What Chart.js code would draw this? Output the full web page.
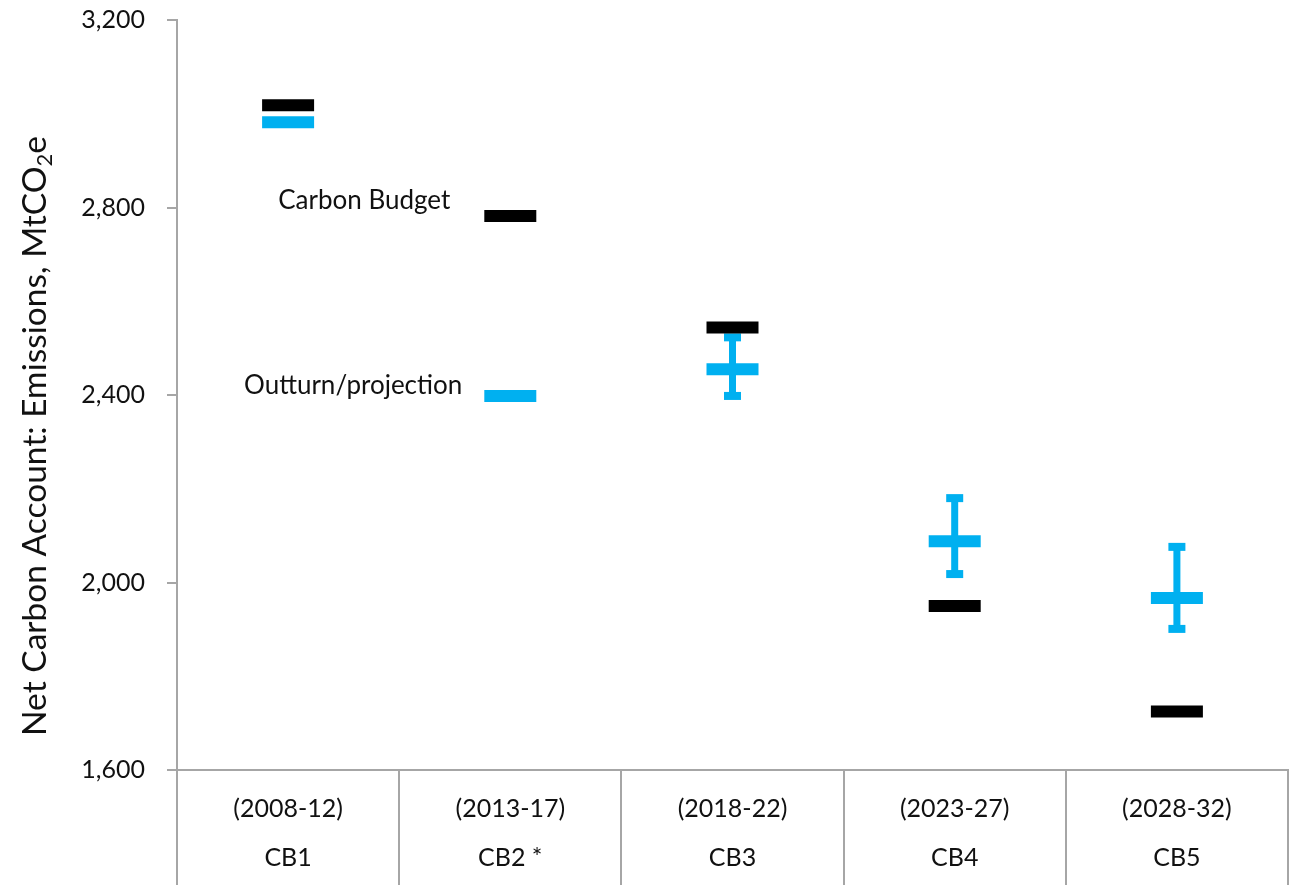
<!DOCTYPE html>
<html>
<head>
<meta charset="utf-8">
<script src="https://cdn.jsdelivr.net/npm/chart.js@4.4.1/dist/chart.umd.min.js"></script>
<style>
    body { margin: 0; background: #ffffff; }
    #wrap { width: 1291px; height: 885px; }
</style>
</head>
<body>
<div id="wrap"><canvas id="myChart" width="1291" height="885"></canvas></div>
<script>
//------------Data-----------------
const periods = ['(2008-12)', '(2013-17)', '(2018-22)', '(2023-27)', '(2028-32)'];
const budgetNames = ['CB1', 'CB2 *', 'CB3', 'CB4', 'CB5'];

const carbonBudget = [3018, 2782, 2544, 1950, 1725];
const outturn = [2982, 2398, 2455, 2088, 1967];
const outturnLow = [null, null, 2398, 2018, 1901];
const outturnHigh = [null, null, 2523, 2180, 2076];

const yTicks = [1600, 2000, 2400, 2800, 3200];

const blue = '#00b0f0';
const axisGrey = '#a6a6a6';
const textColor = '#111111';
const fontFamily = 'Lato, "Open Sans", sans-serif';

// Error bars for the projection series
const errorBars = {
    id: 'errorBars',
    beforeDatasetsDraw(chart) {
        const ctx = chart.ctx;
        const x = chart.scales.x;
        const y = chart.scales.y;
        ctx.save();
        ctx.fillStyle = blue;
        outturnLow.forEach((low, i) => {
            const high = outturnHigh[i];
            if (low == null || high == null) return;
            const px = x.getPixelForValue(i);
            const top = y.getPixelForValue(high);
            const bottom = y.getPixelForValue(low);
            ctx.fillRect(px - 3.5, top, 7, bottom - top);       // stem
            ctx.fillRect(px - 8.5, top - 4, 17, 8);              // top cap
            ctx.fillRect(px - 8.5, bottom - 4, 17, 8);           // bottom cap
        });
        ctx.restore();
    }
};

// Series labels + axis title with subscript
const textBits = {
    id: 'textBits',
    afterDraw(chart) {
        const ctx = chart.ctx;
        const x = chart.scales.x;
        const y = chart.scales.y;
        ctx.save();
        ctx.fillStyle = textColor;
        ctx.font = '26px ' + fontFamily;
        ctx.textAlign = 'right';
        ctx.textBaseline = 'middle';
        const labelX = x.getPixelForValue(1) - 60;
        ctx.fillText('Carbon Budget', labelX, y.getPixelForValue(carbonBudget[1]) - 15);
        ctx.fillText('Outturn/projection', labelX + 12, y.getPixelForValue(outturn[1]) - 10);

        // y axis title
        const main = 'Net Carbon Account: Emissions, MtCO';
        const big = '33.5px ' + fontFamily;
        const small = '22px ' + fontFamily;
        ctx.font = big;
        const w1 = ctx.measureText(main).width;
        const we = ctx.measureText('e').width;
        ctx.font = small;
        const w2 = ctx.measureText('2').width;
        const total = w1 + w2 + we;
        const centerY = 436;
        ctx.translate(46, centerY + total / 2);
        ctx.rotate(-Math.PI / 2);
        ctx.textAlign = 'left';
        ctx.textBaseline = 'alphabetic';
        ctx.font = big;
        ctx.fillText(main, 0, 0);
        ctx.font = small;
        ctx.fillText('2', w1, 6);
        ctx.font = big;
        ctx.fillText('e', w1 + w2, 0);
        ctx.restore();
    }
};

const ctx = document.getElementById('myChart').getContext('2d');

new Chart(ctx, {
    type: 'line',
    data: {
        labels: periods.map((p, i) => [p, budgetNames[i]]),
        datasets: [
            {
                label: 'Outturn/projection',
                data: outturn,
                showLine: false,
                pointStyle: 'line',
                pointRadius: 26,
                pointHoverRadius: 26,
                pointBorderWidth: 12,
                pointHoverBorderWidth: 12,
                borderColor: blue,
                backgroundColor: blue,
                order: 2
            },
            {
                label: 'Carbon Budget',
                data: carbonBudget,
                showLine: false,
                pointStyle: 'line',
                pointRadius: 26,
                pointHoverRadius: 26,
                pointBorderWidth: 12,
                pointHoverBorderWidth: 12,
                borderColor: '#000000',
                backgroundColor: '#000000',
                order: 1
            }
        ]
    },
    options: {
        responsive: false,
        animation: false,
        layout: {
            autoPadding: false,
            padding: { top: 20, right: 3, bottom: 0, left: 0 }
        },
        plugins: {
            legend: { display: false },
            tooltip: { enabled: false }
        },
        scales: {
            x: {
                offset: true,
                grid: {
                    offset: true,
                    drawOnChartArea: false,
                    tickLength: 115,
                    color: axisGrey,
                    lineWidth: 2
                },
                border: { color: axisGrey, width: 2 },
                ticks: {
                    color: textColor,
                    font: { family: fontFamily, size: 25, lineHeight: 1.96 },
                    padding: -101,
                    maxRotation: 0
                },
                afterFit: function (scale) {
                    scale.height = 115;
                    scale.paddingLeft = 0;
                    scale.paddingRight = 0;
                }
            },
            y: {
                min: 1600,
                max: 3200,
                afterBuildTicks: function (scale) {
                    scale.ticks = yTicks.map(v => ({ value: v }));
                },
                grid: {
                    drawOnChartArea: false,
                    tickLength: 10,
                    color: axisGrey,
                    lineWidth: 2
                },
                border: { color: axisGrey, width: 2 },
                ticks: {
                    color: textColor,
                    font: { family: fontFamily, size: 25 },
                    padding: 22
                },
                afterFit: function (scale) {
                    scale.width = 177;
                    scale.paddingTop = 0;
                    scale.paddingBottom = 0;
                }
            }
        }
    },
    plugins: [errorBars, textBits]
});
</script>
</body>
</html>
